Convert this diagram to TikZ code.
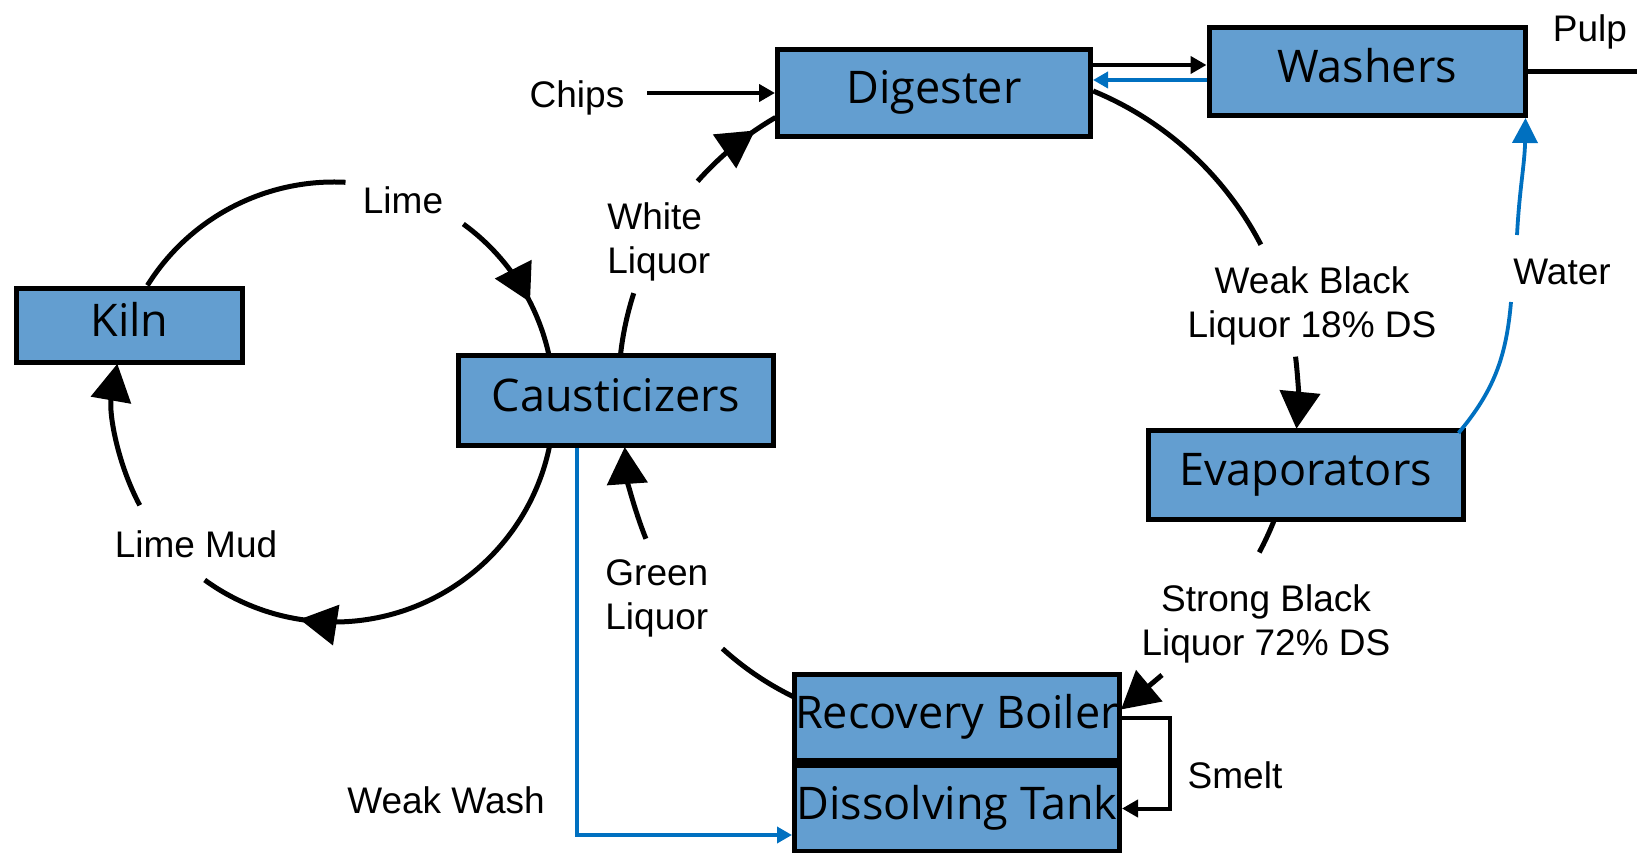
\documentclass[tikz,border=0pt]{standalone}
\usepackage{fontspec}
\setmainfont{Liberation Sans}
\newfontfamily\boxfont{Open Sans}
\usetikzlibrary{arrows.meta,decorations.markings,calc}
\definecolor{boxblue}{RGB}{99,158,208}
\definecolor{flowblue}{RGB}{0,112,192}
\tikzset{
  box/.style={draw=black, line width=2.5pt, fill=boxblue, inner sep=0pt, text height=16pt, text depth=5pt, font=\boxfont\fontsize{22.5}{25}\selectfont},
  lbl/.style={inner sep=0pt, font=\fontsize{18.5}{22}\selectfont},
  lblone/.style={lbl, text height=13.3pt, text depth=0pt},
  flow/.style={draw=black, line width=2.5pt},
  thinflow/.style={draw=black, line width=2.2pt, -{Triangle[length=8pt,width=8.5pt]}},
  blueflow/.style={draw=flowblue, line width=1.8pt, -{Triangle[length=7.5pt,width=8pt]}},
  bigend/.style={-{Triangle[length=18.5pt,width=20pt]}},
  midarrow/.style={postaction={decorate}, decoration={markings, mark=at position #1 with {\arrow{Triangle[length=18.5pt,width=20pt]}}}},
}
\begin{document}
\begin{tikzpicture}[x=0.5pt,y=0.5pt]
\useasboundingbox (0,0) rectangle (1637,852);
% boxes
\node[box, minimum width=156.5pt, minimum height=43.5pt] (dig) at (934,759) {Digester};
\node[box, minimum width=158pt, minimum height=44pt] (wash) at (1367,780.5) {Washers};
\node[box, minimum width=113pt, minimum height=37pt] (kiln) at (129.5,526.5) {Kiln};
\node[box, minimum width=157.5pt, minimum height=45pt] (caus) at (616,451.5) {Causticizers};
\node[box, minimum width=157.5pt, minimum height=44.5pt] (evap) at (1305.5,377) {Evaporators};
\node[box, minimum width=162.5pt, minimum height=43pt] (recb) at (957,134.5) {Recovery Boiler};
\node[box, minimum width=162.5pt, minimum height=43pt] (dist) at (957,43.5) {Dissolving Tank};
% labels
\node[lblone] (chips) at (577,758) {Chips};
\node[lblone] (pulp) at (1590,824) {Pulp};
\node[lblone] (lime) at (403,652) {Lime};
\node[lblone] (limemud) at (196,308) {Lime Mud};
\node[lblone] (water) at (1562,581) {Water};
\node[lblone] (smelt) at (1235,77) {Smelt};
\node[lblone] (weakwash) at (446,52) {Weak Wash};
\node[lbl, align=left, anchor=west] (wl) at (607,610.5) {White\\Liquor};
\node[lbl, align=left, anchor=west] (gl) at (605,254) {Green\\Liquor};
\node[lbl, align=center] (wbl) at (1312,546) {Weak Black\\Liquor 18\% DS};
\node[lbl, align=center] (sbl) at (1266,228) {Strong Black\\Liquor 72\% DS};
% left loop
\coordinate (cL) at (334,450);
\draw[flow] ($(cL)+(148:220)$) arc[start angle=148,end angle=87,radius=220];
\draw[flow, midarrow=0.643] ($(cL)+(54:220)$) arc[start angle=54,end angle=12,radius=220];
\draw[flow, midarrow=0.763] ($(cL)+(-12:220)$) arc[start angle=-12,end angle=-126,radius=220];
\draw[flow, bigend] ($(cL)+(208:220)$) arc[start angle=208,end angle=170,radius=220];
% right loop
\coordinate (cR) at (967,455);
\draw[flow] ($(cR)+(67.6:331)$) arc[start angle=67.6,end angle=27.4,radius=331];
\draw[flow, bigend] ($(cR)+(7:331)$) arc[start angle=7,end angle=-5.5,radius=331];
\draw[flow] ($(cR)+(-21.7:331)$) arc[start angle=-21.7,end angle=-28,radius=331];
\coordinate (sblin) at (1162,177);
\draw[flow, bigend] (sblin) -- ($(recb.east)+(-1,8)$);
% green liquor
\coordinate (cG) at (925,426);
\draw[flow] ($(cG)+(244:301)$) arc[start angle=244,end angle=227.7,radius=301];
\draw[flow, bigend] ($(cG)+(202:301)$) arc[start angle=202,end angle=184,radius=301];
% white liquor
\coordinate (cW) at (933.5,462);
\draw[flow] ($(cW)+(173.6:315)$) arc[start angle=173.6,end angle=162.1,radius=315];
\draw[flow, midarrow=0.76] ($(cW)+(138.5:315)$) arc[start angle=138.5,end angle=120.1,radius=315];
% straight connectors
\coordinate (chipsout) at (647,759);
\draw[thinflow] (chipsout) -- (dig.west);
\draw[thinflow] (dig.east |- 0,787) -- (wash.west |- 0,787);
\draw[blueflow] (wash.west |- 0,772) -- (dig.east |- 0,772);
\coordinate (pulpout) at (1650,780.5);
\draw[draw=black, line width=2.4pt] (wash.east) -- (pulpout);
\coordinate (smeltbend) at (1170,134.5);
\draw[thinflow, line width=2pt] (recb.east) -- (smeltbend) |- (dist.east);
\coordinate (wwbend) at (577,17);
\draw[blueflow] (caus.south -| wwbend) -- (wwbend) -- (dist.west |- wwbend);
% water
\coordinate (wgap1) at (1511,550);
\coordinate (wgap2) at (1517,617);
\draw[draw=flowblue, line width=1.9pt] ($(evap.north east)+(-7,-5)$) to[out=50,in=-95] (wgap1);
\draw[draw=flowblue, line width=1.9pt, -{Triangle[length=12.5pt,width=12.5pt]}] (wgap2) to[out=87,in=-91] ($(wash.south east)+(-2,0)$);
\end{tikzpicture}
\end{document}
